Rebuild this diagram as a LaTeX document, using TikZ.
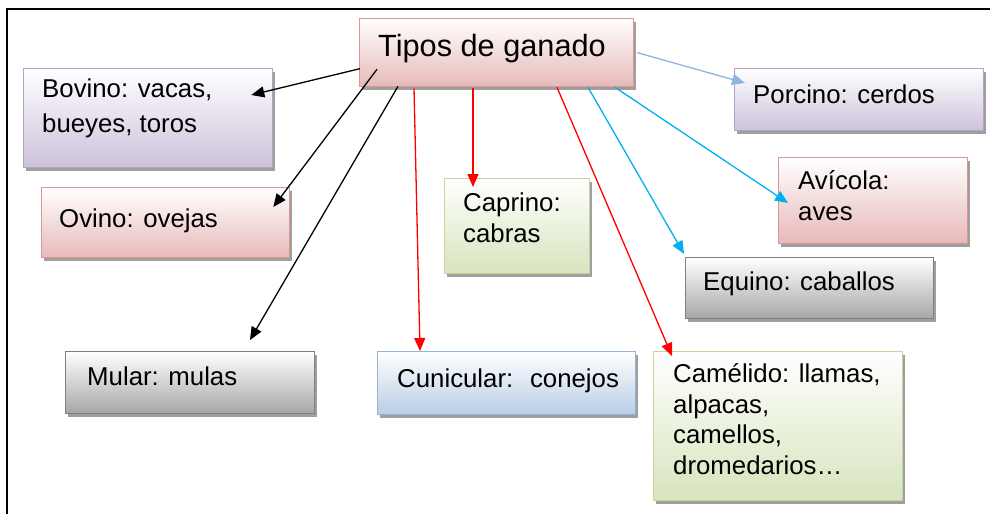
\documentclass[tikz,border=0pt]{standalone}
\usepackage{fontspec}
\setmainfont{Liberation Sans}
\usetikzlibrary{arrows.meta,shadows,calc}
\definecolor{pinkB}{HTML}{D99694}
\definecolor{pinkF}{HTML}{E6B9B8}
\definecolor{purpB}{HTML}{B3A2C7}
\definecolor{purpF}{HTML}{CCC1DA}
\definecolor{greenB}{HTML}{C3D69B}
\definecolor{greenF}{HTML}{D7E4BD}
\definecolor{grayB}{HTML}{7F7F7F}
\definecolor{grayF}{HTML}{A6A6A6}
\definecolor{blueB}{HTML}{95B3D7}
\definecolor{blueF}{HTML}{B9CDE5}
\definecolor{arrRed}{HTML}{FF0000}
\definecolor{arrCyan}{HTML}{00B0F0}
\definecolor{arrLight}{HTML}{8EB4E3}
\begin{document}
\begin{tikzpicture}[x=1pt,y=-1pt,
  box/.style={draw, line width=1.3pt, rectangle, inner sep=0pt, anchor=north west,
    drop shadow={shadow xshift=2.5pt, shadow yshift=-3pt, fill=black!50, opacity=0.75}},
  pinkbox/.style={box, draw=pinkB, top color=white, bottom color=pinkF},
  purpbox/.style={box, draw=purpB, top color=white, bottom color=purpF},
  greenbox/.style={box, draw=greenB, top color=white, bottom color=greenF},
  graybox/.style={box, draw=grayB, top color=white, bottom color=grayF},
  bluebox/.style={box, draw=blueB, top color=white, bottom color=blueF},
  lbl/.style={inner sep=0pt, anchor=base west, align=left, text=black,
    font=\fontsize{25.8}{30.5}\selectfont},
  arr/.style={line width=1.3pt, -{Triangle[length=13pt,width=11pt]}}]
\useasboundingbox[fill=white] (0,0) rectangle (990,514);
\draw[line width=2.2pt] (7,514) -- (7,9) -- (990,9);

% boxes
\node[pinkbox, minimum width=274pt, minimum height=68pt] (tipos) at (359,18) {};
\node[purpbox, minimum width=249pt, minimum height=99pt] (bovino) at (23,68) {};
\node[pinkbox, minimum width=248pt, minimum height=70pt] (ovino) at (41,187) {};
\node[greenbox, minimum width=145pt, minimum height=95pt] (caprino) at (444,178) {};
\node[bluebox, minimum width=258pt, minimum height=63pt] (cunicular) at (377,351) {};
\node[graybox, minimum width=249pt, minimum height=62pt] (mular) at (65,351) {};
\node[purpbox, minimum width=249pt, minimum height=62pt] (porcino) at (734,68) {};
\node[pinkbox, minimum width=189pt, minimum height=86pt] (avicola) at (778,157) {};
\node[graybox, minimum width=248pt, minimum height=61pt] (equino) at (685,257) {};
\node[greenbox, minimum width=249pt, minimum height=149pt] (camelido) at (653,351) {};

% texts (base anchor = baseline of the last line)
\node[lbl, font=\fontsize{30.7}{36}\selectfont] (tiposT) at (378,56.7) {Tipos de ganado};
\node[lbl] (bovinoT) at (42,132) {Bovino: vacas,\\[4pt]bueyes, toros};
\node[lbl] (ovinoT) at (59,227) {Ovino: ovejas};
\node[lbl] (caprinoT) at (463,242) {Caprino:\\cabras};
\node[lbl] (cunicularT) at (397,387) {Cunicular:~ conejos};
\node[lbl] (mularT) at (87,385) {Mular: mulas};
\node[lbl] (porcinoT) at (753,103) {Porcino: cerdos};
\node[lbl] (avicolaT) at (798,220) {Avícola:\\aves};
\node[lbl] (equinoT) at (703,290) {Equino: caballos};
\node[lbl] (camelidoT) at (673,474) {Camélido: llamas,\\alpacas,\\camellos,\\dromedarios…};

% connectors
\draw[arr] ($(tipos.west)+(1,16)$) -- ($(bovino.north east)+(-22,27)$);
\draw[arr] ($(tipos.south west)+(18,-18)$) -- ($(ovino.north east)+(-17,20)$);
\draw[arr] ($(tipos.south west)+(39,-1)$) -- ($(mular.north west)+(185,-11)$);
\draw[arr, arrRed] ($(tipos.south west)+(55,1)$) -- ($(cunicular.north west)+(43,0)$);
\draw[arr, arrRed] ($(tipos.south west)+(114,1)$) -- ($(caprino.north west)+(29,9)$);
\draw[arr, arrRed] ($(tipos.south west)+(198,0)$) -- ($(camelido.north west)+(19,5)$);
\draw[arr, arrCyan] ($(tipos.south west)+(229,0)$) -- ($(equino.north west)+(-1,-3)$);
\draw[arr, arrCyan] ($(tipos.south west)+(256,0)$) -- ($(avicola.north west)+(10,46)$);
\draw[arr, arrLight] ($(tipos.east)+(3,0)$) -- ($(porcino.north west)+(11,15)$);
\end{tikzpicture}
\end{document}
